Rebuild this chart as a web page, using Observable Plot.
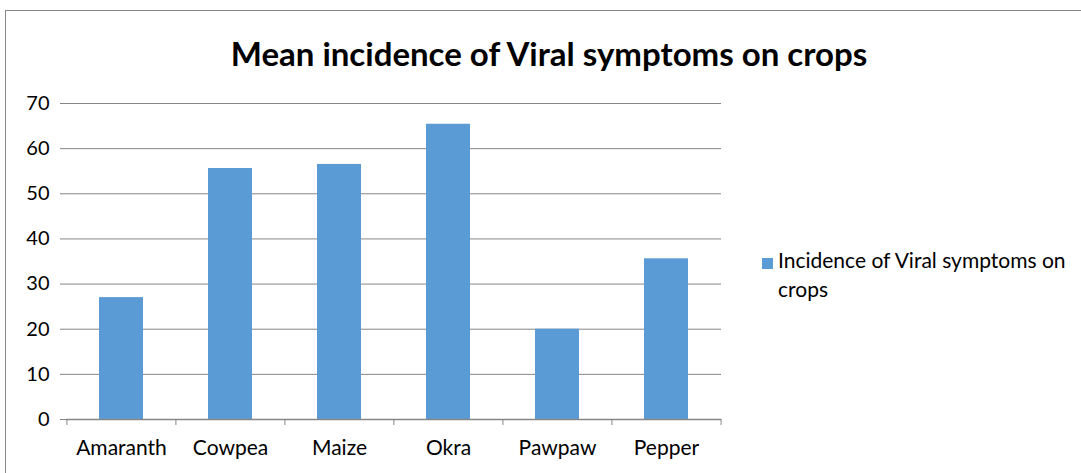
<!DOCTYPE html>
<html>
<head>
<meta charset="utf-8">
<script src="https://cdn.jsdelivr.net/npm/d3@7"></script>
<script src="https://cdn.jsdelivr.net/npm/@observablehq/plot@0.6"></script>
<style>
  html, body { margin: 0; padding: 0; background: #fff; }
  body { width: 1081px; height: 473px; position: relative; overflow: hidden; font-family: Lato, "Open Sans", sans-serif; }
  #frame { position: absolute; left: 5px; top: 10px; width: 1090px; height: 480px; border: 1px solid #868686; box-sizing: border-box; }
  #title { position: absolute; left: 0; width: 1098px; top: 33px; text-align: center; font-weight: bold; font-size: 33px; color: #000; }
  #chart { position: absolute; left: 0; top: 0; }
  #legend { position: absolute; left: 762px; top: 245px; font-size: 21px; color: #000; line-height: 29px; }
  #legend .sw { position: absolute; left: 0; top: 13px; width: 11px; height: 11px; background: #5B9BD5; }
  #legend .tx { position: absolute; left: 16px; top: 0; width: 305px; }
</style>
</head>
<body>
<div id="frame"></div>
<div id="title">Mean incidence of Viral symptoms on crops</div>
<div id="chart"></div>
<div id="legend"><div class="sw"></div><div class="tx">Incidence of Viral symptoms on crops</div></div>
<script>
const crops = ["Amaranth", "Cowpea", "Maize", "Okra", "Pawpaw", "Pepper"];
const incidence = [27.0, 55.6, 56.5, 65.4, 20.0, 35.6];
const yTicks = [0, 10, 20, 30, 40, 50, 60, 70];
const seriesName = "Incidence of Viral symptoms on crops";

const data = crops.map((c, i) => ({crop: c, value: incidence[i]}));

const W = 1081, H = 473;
const mL = 66, mR = W - 721, mT = 103, mB = H - 419;
const step = (W - mL - mR) / crops.length;
const grey = "#868686";

const chart = Plot.plot({
  width: W,
  height: H,
  marginLeft: mL,
  marginRight: mR,
  marginTop: mT,
  marginBottom: mB,
  style: {fontFamily: "Lato, 'Open Sans', sans-serif", fontSize: "18px", color: "#000", background: "transparent"},
  x: {domain: crops, paddingInner: 0.6, paddingOuter: 0.3, label: null},
  y: {domain: [0, 70], label: null},
  marks: [
    Plot.gridY(yTicks, {stroke: grey, strokeOpacity: 1, strokeWidth: 1}),
    Plot.barY(data, {x: "crop", y: "value", fill: "#5B9BD5"}),
    Plot.axisY(yTicks, {tickSize: 6, tickPadding: 11, stroke: grey, fill: "#000", fontSize: 20, line: true}),
    Plot.ruleY([0], {stroke: grey, strokeWidth: 1.5}),
    Plot.ruleX(crops, {x: d => d, y1: 0, y2: 0, insetBottom: -6, dx: -step / 2, stroke: grey}),
    Plot.ruleX([crops[crops.length - 1]], {x: d => d, y1: 0, y2: 0, insetBottom: -6, dx: step / 2, stroke: grey}),
    Plot.axisX({tickSize: 0, tickPadding: 21, fill: "#000", fontSize: 21})
  ]
});
document.getElementById("chart").appendChild(chart);
</script>
</body>
</html>
